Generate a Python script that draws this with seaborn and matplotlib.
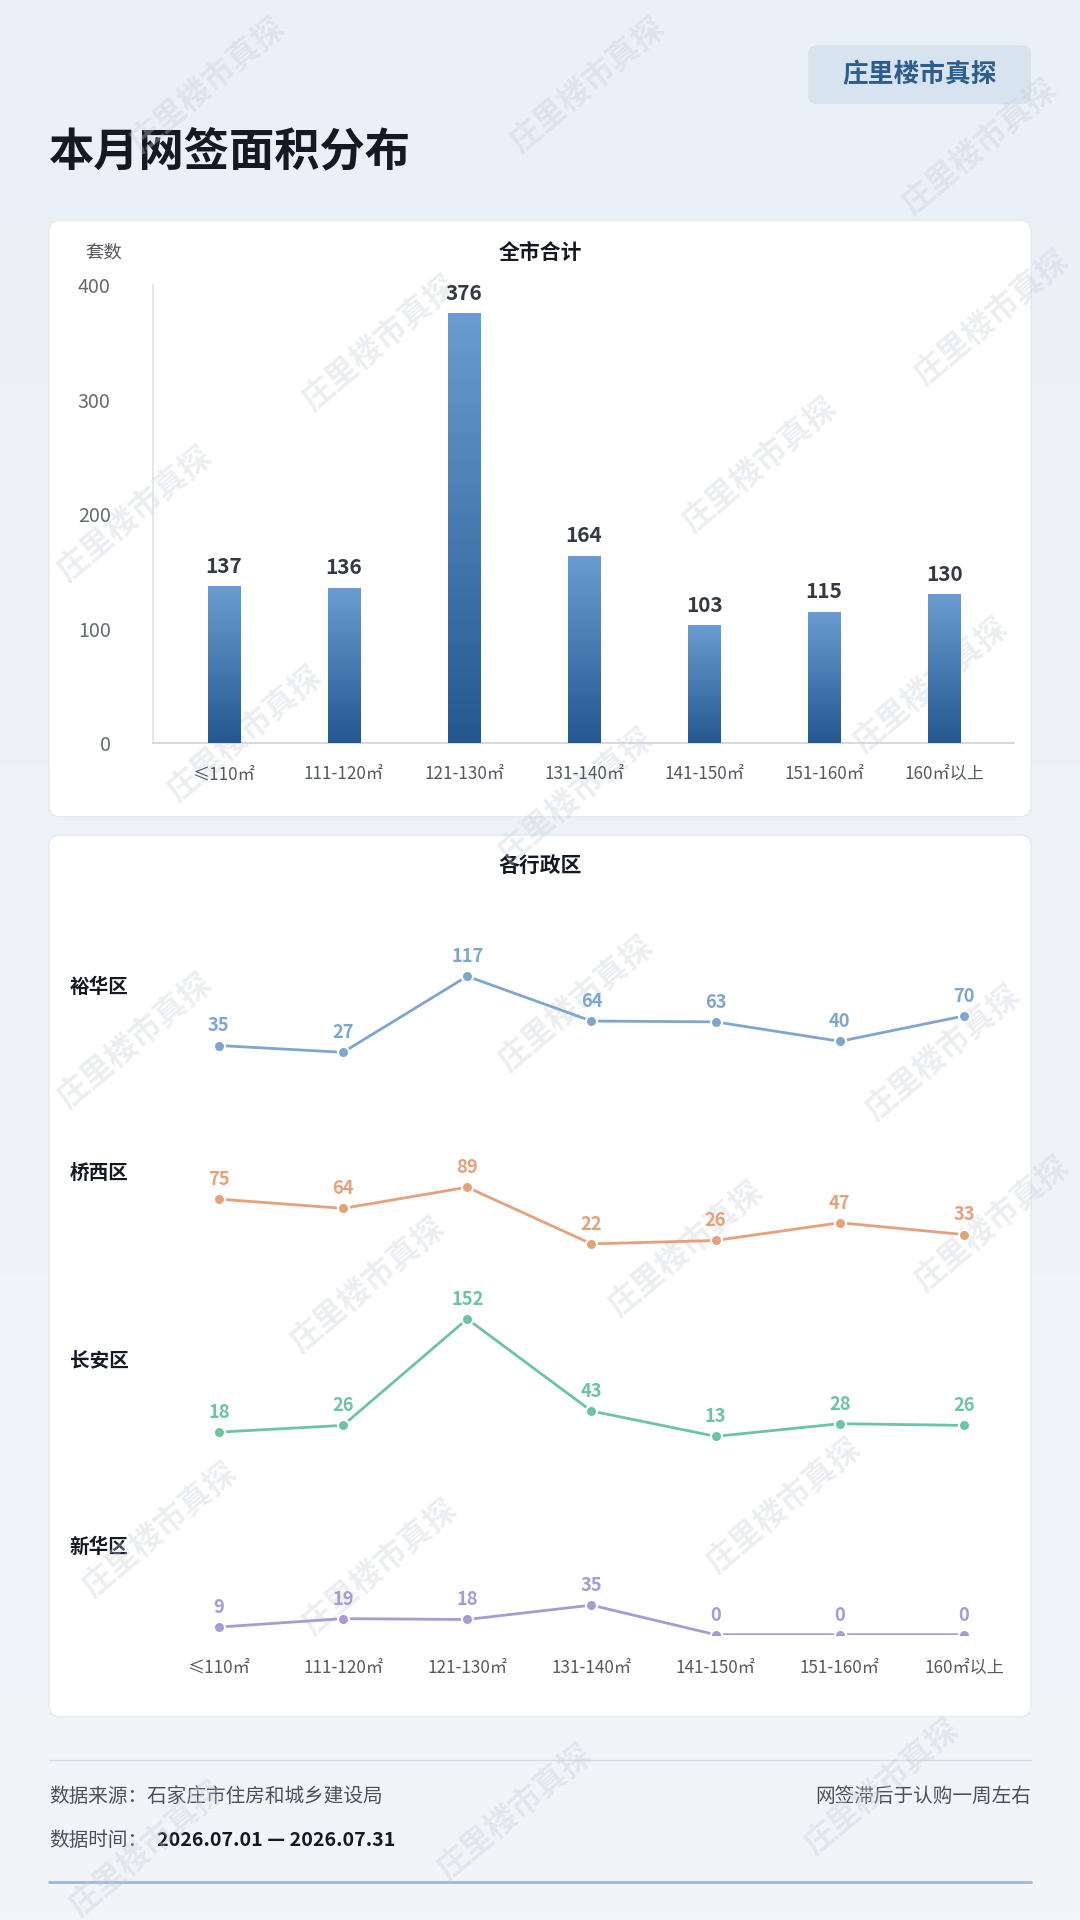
import matplotlib
matplotlib.use("Agg")
import matplotlib.pyplot as plt
import seaborn as sns
import numpy as np
import pandas as pd
from matplotlib.patches import FancyBboxPatch

sns.set_theme(style="white")
plt.rcParams['font.family'] = ['Noto Sans CJK SC', 'DejaVu Sans']

categories = ["≤110㎡", "111-120㎡", "121-130㎡", "131-140㎡", "141-150㎡", "151-160㎡", "160㎡以上"]
total_counts = [137, 136, 376, 164, 103, 115, 130]
districts = ["裕华区", "桥西区", "长安区", "新华区"]
yuhua = [35, 27, 117, 64, 63, 40, 70]
qiaoxi = [75, 64, 89, 22, 26, 47, 33]
changan = [18, 26, 152, 43, 13, 28, 26]
xinhua = [9, 19, 18, 35, 0, 0, 0]
district_values = [yuhua, qiaoxi, changan, xinhua]
district_colors = ["#7fa6cf", "#e5a17c", "#6cc5a0", "#a99ad3"]

W, H = 882, 1568
S = 1080 / W
def fx(x): return x / W
def fy(y): return 1 - y / H
def pt(px): return px * S * 0.72

fig = plt.figure(figsize=(10.8, 19.2), dpi=100)
bg = fig.add_axes([0, 0, 1, 1])
grad = np.linspace(0, 1, 256).reshape(-1, 1)
bg.imshow(grad, aspect="auto", cmap=matplotlib.colors.LinearSegmentedColormap.from_list("bg", ["#eaf0f7", "#f3f5f9"]),
          extent=[0, 1, 0, 1])
bg.set_xlim(0, 1); bg.set_ylim(0, 1); bg.axis("off")

# cards
for y0, y1 in [(180, 667), (682, 1402)]:
    bg.add_patch(FancyBboxPatch((fx(40), fy(y1)), fx(802), (y1 - y0) / H,
                                boxstyle="round,pad=0,rounding_size=0.01", fc="white", ec="#e6eaf0", lw=1,
                                mutation_aspect=W / H))
# badge
bg.add_patch(FancyBboxPatch((fx(660), fy(85)), fx(182), 48 / H, boxstyle="round,pad=0,rounding_size=0.008",
                            fc="#d7e3ee", ec="none", mutation_aspect=W / H))
bg.text(fx(751), fy(61), "庄里楼市真探", ha="center", va="center", fontsize=pt(21), color="#2c5d8f", fontweight="bold")
bg.text(fx(40), fy(125), "本月网签面积分布", ha="left", va="center", fontsize=pt(37), color="#141a24", fontweight="bold")

# watermarks
for wx, wy in [(170, 70), (480, 70), (800, 120), (110, 420), (310, 280), (620, 380), (810, 260),
               (200, 600), (470, 650), (760, 560), (110, 850), (470, 820), (770, 860),
               (300, 1050), (560, 1020), (810, 1000), (130, 1250), (310, 1280), (640, 1230),
               (420, 1480), (720, 1460), (120, 1510)]:
    bg.text(fx(wx), fy(wy), "庄里楼市真探", rotation=40, ha="center", va="center", fontsize=pt(26),
            color="#c9d0da", alpha=0.35, fontweight="bold", zorder=20)

# bar chart
ax = fig.add_axes([fx(125), fy(607), fx(828 - 125), (607 - 233) / H])
df = pd.DataFrame({"cat": categories, "n": total_counts})
sns.barplot(data=df, x="cat", y="n", ax=ax, width=0.27, color="#3c6fa6", saturation=1)
ax.set_xlim(-0.59, 6.58)
ax.set_ylim(0, 400)
cmap_bar = matplotlib.colors.LinearSegmentedColormap.from_list("bar", ["#24578e", "#6b9dd2"])
for p in list(ax.patches):
    x0, w, h = p.get_x(), p.get_width(), p.get_height()
    im = ax.imshow(grad, cmap=cmap_bar, origin="lower", aspect="auto", extent=[x0, x0 + w, 0, h], zorder=3)
    im.set_clip_path(p)
    ax.text(x0 + w / 2, h + 8, f"{h:.0f}", ha="center", va="bottom", fontsize=pt(17), fontweight="bold", color="#333a44")
ax.set_xlabel(""); ax.set_ylabel("")
ax.set_yticks([0, 100, 200, 300, 400])
ax.tick_params(axis="y", labelsize=pt(16), colors="#666b73", pad=20 * S)
ax.tick_params(axis="x", labelsize=pt(14), colors="#555a62", pad=8 * S)
for s in ["top", "right"]:
    ax.spines[s].set_visible(False)
ax.spines["left"].set_color("#dfe3e8"); ax.spines["bottom"].set_color("#cfd6de")
ax.set_facecolor("none")
bg.text(fx(70), fy(206), "套数", fontsize=pt(15), color="#555a62", va="center")
bg.text(fx(441), fy(206), "全市合计", fontsize=pt(17), color="#141a24", fontweight="bold", ha="center", va="center")
bg.text(fx(441), fy(707), "各行政区", fontsize=pt(17), color="#141a24", fontweight="bold", ha="center", va="center")

# district lines
baselines = [878, 1031, 1182, 1335]
label_y = [806, 958, 1111, 1264]
pxu = 0.69
for i, (name, vals, col) in enumerate(zip(districts, district_values, district_colors)):
    hpx = 170
    lax = fig.add_axes([fx(128), fy(baselines[i]), fx(710), hpx / H])
    d = pd.DataFrame({"cat": categories, "v": vals})
    sns.lineplot(data=d, x="cat", y="v", ax=lax, color=col, lw=2, marker="o", markersize=8,
                 markeredgecolor="white", markeredgewidth=1.5, sort=False)
    lax.set_xlim(-0.5, 6.5)
    lax.set_ylim(0, hpx / pxu)
    for j, v in enumerate(vals):
        lax.text(j, v + 12, str(v), ha="center", va="bottom", fontsize=pt(15), fontweight="bold", color=col)
    lax.axis("off")
    bg.text(fx(57), fy(label_y[i]), name, fontsize=pt(16), fontweight="bold", color="#141a24", va="center")
for j, c in enumerate(categories):
    bg.text(fx(128 + 710 * (j + 0.5) / 7), fy(1362), c, ha="center", va="center", fontsize=pt(14), color="#555a62")

# footer
bg.plot([fx(40), fx(842)], [fy(1437), fy(1437)], color="#d5dce5", lw=1)
bg.text(fx(40), fy(1467), "数据来源：石家庄市住房和城乡建设局", fontsize=pt(16), color="#4a505a", va="center")
bg.text(fx(40), fy(1503), "数据时间：", fontsize=pt(16), color="#4a505a", va="center")
bg.text(fx(128), fy(1503), "2026.07.01 — 2026.07.31", fontsize=pt(16), color="#141a24", fontweight="bold", va="center")
bg.text(fx(842), fy(1467), "网签滞后于认购一周左右", fontsize=pt(16), color="#4a505a", va="center", ha="right")
bg.plot([fx(40), fx(842)], [fy(1537), fy(1537)], color="#9db7d6", lw=2)

fig.savefig("out.png", dpi=100)
